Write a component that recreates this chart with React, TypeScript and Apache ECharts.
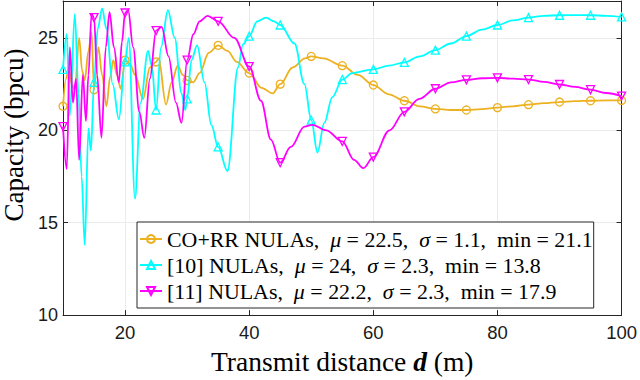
import React, { useEffect, useRef } from 'react';
import * as echarts from 'echarts';

const coX = [10, 10.5, 10.9, 11.4, 11.9, 12.6, 13.1, 13.5, 14.1, 14.6, 15, 15.7, 16.3, 17, 17.6, 18.1, 18.7, 19.3, 20, 20.8, 21.6, 22.9, 24, 25, 25.4, 26.6, 27.5, 28.5, 29.3, 30, 31, 32, 33.5, 35, 36.5, 38, 40, 42, 43.8, 45, 47, 49, 50, 52, 55, 57.5, 60, 62.5, 65, 67.5, 70, 72.5, 75, 77.5, 80, 82.5, 85, 87.5, 90, 92.5, 95, 97.5, 100];
const coY = [21.3, 22.8, 23.4, 22.5, 22.2, 25.0, 23.2, 22.7, 24.3, 25.3, 22.2, 24.5, 23.0, 21.3, 22.9, 23.8, 23.0, 22.25, 23.8, 23.6, 23.0, 21.7, 23.4, 23.7, 23.9, 21.4, 22.6, 23.5, 23.0, 22.7, 22.6, 23.1, 24.2, 24.6, 24.3, 23.7, 23.1, 22.3, 22.0, 22.5, 23.4, 23.9, 24.0, 23.9, 23.5, 23.0, 22.45, 21.95, 21.6, 21.3, 21.16, 21.1, 21.1, 21.15, 21.23, 21.3, 21.39, 21.47, 21.53, 21.58, 21.6, 21.62, 21.62];

const n10X = [10, 10.6, 11.1, 11.9, 12.5, 13.0, 13.5, 14.1, 14.5, 15, 15.6, 16.3, 17.0, 18.0, 19.0, 20, 20.6, 21.6, 22.5, 23.7, 24.3, 25, 25.8, 26.9, 28, 29.1, 29.7, 30, 30.7, 31.6, 32.8, 33.9, 35, 36.5, 38.2, 39, 40, 41.3, 42.7, 44, 45, 47.3, 48.9, 50, 51, 52.1, 53.4, 55, 56.6, 60, 62.5, 65, 67.5, 70, 72.5, 75, 77.5, 80, 82.5, 85, 87.5, 90, 92.5, 95, 97.5, 100];
const n10Y = [23.3, 25.2, 20.8, 26.3, 22.0, 17.5, 13.8, 20.1, 18.9, 22.6, 25.5, 26.6, 25.5, 22.5, 20.6, 23.7, 25.0, 16.3, 21.5, 24.3, 23.5, 21.1, 24.5, 26.5, 25.0, 22.0, 21.1, 21.7, 23.8, 24.6, 22.6, 20.3, 19.1, 17.8, 23.4, 24.65, 25.1, 25.9, 26.1, 25.9, 25.7, 24.7, 22.5, 20.55, 18.8, 20.4, 21.8, 22.75, 23.1, 23.3, 23.5, 23.68, 24.0, 24.34, 24.7, 25.1, 25.45, 25.7, 25.95, 26.1, 26.2, 26.23, 26.24, 26.23, 26.2, 26.14];

const n11X = [10, 10.6, 11.1, 11.6, 12.1, 12.6, 13.2, 13.7, 14.1, 14.6, 15, 15.5, 16.2, 16.9, 17.5, 18.2, 19, 19.5, 20, 20.5, 21.3, 22.3, 23.1, 24, 25, 25.9, 27, 28.2, 29.1, 30, 31, 32, 33.3, 35, 37.6, 40, 41.9, 43.5, 45, 46.7, 48.9, 50.2, 52.4, 55, 56.9, 58.4, 60, 62.6, 65, 67.4, 70, 72.5, 75, 77.5, 80, 82.5, 85, 87.5, 90, 92.5, 95, 97.5, 100];
const n11Y = [20.2, 17.9, 24.5, 21.5, 22.8, 18.4, 23.0, 20.5, 23.0, 26.3, 26.1, 23.0, 19.6, 24.5, 26.4, 24.5, 22.6, 24.8, 26.35, 26.5, 24.5, 21.0, 19.6, 22.8, 25.4, 25.6, 24.0, 21.5, 20.4, 23.8, 25.2, 25.9, 26.2, 25.9, 25.0, 23.45, 21.6, 19.5, 18.25, 19.1, 20.2, 20.3, 20.0, 19.4, 18.4, 17.95, 18.55, 20.0, 21.0, 21.7, 22.25, 22.6, 22.73, 22.82, 22.84, 22.8, 22.75, 22.62, 22.48, 22.35, 22.2, 22.02, 21.85];

const seriesNames = ['CO+RR NULAs', '[10] NULAs', '[11] NULAs'];
const seriesColors = ['#EDB120', '#00FFFF', '#FF00FF'];
const legendStats = [
  { mu: '22.5', sigma: '1.1', min: '21.1' },
  { mu: '24', sigma: '2.3', min: '13.8' },
  { mu: '22.2', sigma: '2.3', min: '17.9' },
];
const xTicks = [20, 40, 60, 80, 100];
const yTicks = [10, 15, 20, 25];

const AXIS = '#262626';
const GRIDC = '#ebebeb';
const SERIF = "'Liberation Serif', 'Times New Roman', serif";
const SANS = "'Liberation Sans', Arial, sans-serif";
const LF = 21.9;

function build(xs: number[], ys: number[]) {
  return xs.map((x, i) => (x % 5 === 0 ? [x, ys[i]] : { value: [x, ys[i]], symbol: 'none' }));
}

export default function App() {
  const ref = useRef<HTMLDivElement>(null);
  useEffect(() => {
    const chart = echarts.init(ref.current!, null, { renderer: 'svg' });
    const lineCommon = {
      type: 'line',
      smooth: 0.35,
      smoothMonotone: 'x',
      showAllSymbol: true,
      symbolSize: 8,
      clip: true,
    };
    const mk = (k: number, xs: number[], ys: number[], symbol: string, rot: number, z: number) => ({
      ...lineCommon,
      name: seriesNames[k],
      data: build(xs, ys),
      symbol,
      symbolRotate: rot,
      lineStyle: { color: seriesColors[k], width: 1.8 },
      itemStyle: { color: 'rgba(255,255,255,0)', borderColor: seriesColors[k], borderWidth: 1.3 },
      z,
    });
    const option: any = {
      animation: false,
      backgroundColor: '#fff',
      grid: { left: 63, right: 18, top: 1, bottom: 63, show: false },
      graphic: [
        {
          type: 'text',
          x: 14,
          y: 135,
          rotation: Math.PI / 2,
          style: {
            text: 'Capacity (bpcu)',
            fontFamily: SERIF,
            fontSize: 27,
            fill: '#000',
            align: 'center',
            verticalAlign: 'middle',
          },
        },
      ],
      legend: {
        data: seriesNames,
        orient: 'vertical',
        left: 137,
        top: 222,
        backgroundColor: '#fff',
        borderColor: AXIS,
        borderWidth: 1,
        borderRadius: 0,
        padding: [4, 1, 4, 2],
        itemGap: 0,
        itemWidth: 22,
        itemHeight: 10,
        textStyle: {
          fontFamily: SERIF,
          fontSize: LF,
          lineHeight: 26,
          color: '#000',
          rich: {
            n: { fontFamily: SERIF, fontSize: LF, lineHeight: 26, color: '#000' },
            i: { fontFamily: SERIF, fontSize: LF, lineHeight: 26, color: '#000', fontStyle: 'italic' },
          },
        },
        formatter: (name: string) => {
          const k = seriesNames.indexOf(name);
          const s = legendStats[k];
          return `{n|${name},  }{i|μ}{n| = ${s.mu},  }{i|σ}{n| = ${s.sigma},  min = ${s.min}}`;
        },
      },
      xAxis: [
        {
          type: 'value',
          min: 10,
          max: 100,
          position: 'bottom',
          name: 'Transmit distance {b|d} (m)',
          nameLocation: 'middle',
          nameGap: 27,
          nameTextStyle: {
            fontFamily: SERIF,
            fontSize: 27.5,
            color: '#000',
            rich: { b: { fontFamily: SERIF, fontSize: 27.5, fontWeight: 'bold', fontStyle: 'italic', color: '#000' } },
          },
          axisLine: { show: true, onZero: false, lineStyle: { color: AXIS, width: 1 } },
          axisTick: { show: true, inside: true, length: 5, customValues: xTicks, lineStyle: { color: AXIS } },
          axisLabel: { customValues: xTicks, fontFamily: SANS, fontSize: 18.5, color: '#1a1a1a', margin: 8 },
          splitLine: { show: true, lineStyle: { color: GRIDC, width: 1 } },
        },
        {
          type: 'value',
          min: 10,
          max: 100,
          position: 'top',
          axisLine: { show: true, onZero: false, lineStyle: { color: AXIS, width: 1 } },
          axisTick: { show: true, inside: true, length: 5, customValues: xTicks, lineStyle: { color: AXIS } },
          axisLabel: { show: false },
          splitLine: { show: false },
        },
      ],
      yAxis: [
        {
          type: 'value',
          min: 10,
          max: 27,
          position: 'left',
          axisLine: { show: true, onZero: false, lineStyle: { color: AXIS, width: 1 } },
          axisTick: { show: true, inside: true, length: 5, customValues: yTicks, lineStyle: { color: AXIS } },
          axisLabel: { customValues: yTicks, fontFamily: SANS, fontSize: 18, color: '#1a1a1a', margin: 5 },
          splitLine: { show: true, lineStyle: { color: GRIDC, width: 1 } },
        },
        {
          type: 'value',
          min: 10,
          max: 27,
          position: 'right',
          axisLine: { show: true, onZero: false, lineStyle: { color: AXIS, width: 1 } },
          axisTick: { show: true, inside: true, length: 5, customValues: yTicks, lineStyle: { color: AXIS } },
          axisLabel: { show: false },
          splitLine: { show: false },
        },
      ],
      series: [
        mk(0, coX, coY, 'circle', 0, 2),
        mk(1, n10X, n10Y, 'triangle', 0, 3),
        mk(2, n11X, n11Y, 'triangle', 180, 4),
      ],
    };
    chart.setOption(option);
    return () => chart.dispose();
  }, []);
  return (
    <div
      ref={ref}
      style={{ position: 'fixed', left: 0, top: 0, width: 640, height: 380, background: '#fff' }}
    />
  );
}
